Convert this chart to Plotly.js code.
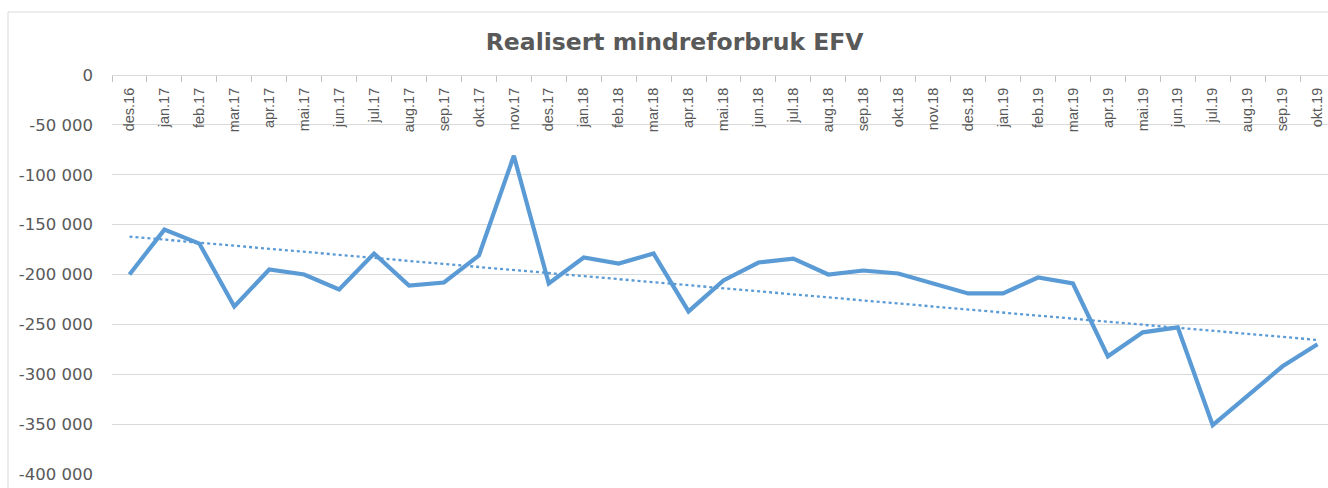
<!DOCTYPE html>
<html>
<head>
<meta charset="utf-8">
<script src="https://cdn.plot.ly/plotly-3.0.1.min.js"></script>
<style>
html,body{margin:0;padding:0;background:#fff;}
#chart{width:1328px;height:488px;}
</style>
</head>
<body>
<div id="chart"></div>
<script>
const months = ["des.16","jan.17","feb.17","mar.17","apr.17","mai.17","jun.17","jul.17","aug.17","sep.17","okt.17","nov.17","des.17","jan.18","feb.18","mar.18","apr.18","mai.18","jun.18","jul.18","aug.18","sep.18","okt.18","nov.18","des.18","jan.19","feb.19","mar.19","apr.19","mai.19","jun.19","jul.19","aug.19","sep.19","okt.19"];
const values = [-200000,-155000,-169000,-232000,-195000,-200000,-215000,-179000,-211000,-208000,-181000,-81000,-209000,-183000,-189000,-179000,-237000,-206000,-188000,-184000,-200000,-196000,-199000,-209000,-219000,-219000,-203000,-209000,-282000,-258000,-253000,-351000,-322000,-292000,-270000];
const yTickVals = [0,-50000,-100000,-150000,-200000,-250000,-300000,-350000,-400000];
const yTickText = ["0","-50 000","-100 000","-150 000","-200 000","-250 000","-300 000","-350 000","-400 000"];
const titleText = "Realisert mindreforbruk EFV";

// linear trendline (least squares) from the series
const n = values.length;
let sx=0, sy=0, sxx=0, sxy=0;
for (let i=0;i<n;i++){ sx+=i; sy+=values[i]; sxx+=i*i; sxy+=i*values[i]; }
const slope = (n*sxy - sx*sy)/(n*sxx - sx*sx);
const intercept = (sy - slope*sx)/n;
const trend = values.map((v,i)=>intercept + slope*i);

const blue = "#5B9BD5";
const traces = [
  {x: months, y: trend, type:"scatter", mode:"lines", line:{color:blue, width:2.3, dash:"dot"}, hoverinfo:"skip", cliponaxis:false},
  {x: months, y: values, type:"scatter", mode:"lines", line:{color:blue, width:4.2}, cliponaxis:false}
];

const layout = {
  width:1328, height:488,
  margin:{l:112, r:0, t:75, b:14, pad:0},
  paper_bgcolor:"#fff", plot_bgcolor:"#fff",
  showlegend:false,
  font:{family:"Liberation Sans, Arial, sans-serif", color:"#595959"},
  title:{text:titleText, font:{family:"DejaVu Sans, sans-serif", size:23.5, color:"#595959", weight:"bold"}, xref:"container", x:0.508, xanchor:"center", yref:"container", y:1-42/488, yanchor:"middle"},
  xaxis:{
    type:"category", side:"bottom", anchor:"free", position:1, range:[-0.5, 34.3],
    showline:true, linecolor:"#d9d9d9", linewidth:1,
    showgrid:false, zeroline:false,
    ticks:"outside", tickson:"boundaries", ticklen:6, tickcolor:"#bfbfbf",
    tickangle:-90, ticklabelstandoff:6,
    tickfont:{family:"Liberation Sans, sans-serif", size:14.5, color:"#595959"}
  },
  yaxis:{
    range:[-400000, 0], tickmode:"array", tickvals:yTickVals, ticktext:yTickText,
    showline:false, zeroline:false, ticks:"",
    showgrid:true, gridcolor:"#d9d9d9", gridwidth:1,
    ticklabelstandoff:18,
    tickfont:{family:"DejaVu Sans, sans-serif", size:16.5, color:"#595959"}
  },
  shapes:[
    {type:"line", xref:"paper", yref:"paper", x0:(8-112)/1216, x1:1, y0:(474-12)/399, y1:(474-12)/399, line:{color:"#d9d9d9", width:1}},
    {type:"line", xref:"paper", yref:"paper", x0:(8-112)/1216, x1:(8-112)/1216, y0:(474-12)/399, y1:-0.05, line:{color:"#d9d9d9", width:1}}
  ]
};
Plotly.newPlot("chart", traces, layout, {displayModeBar:false, staticPlot:true});
</script>
</body>
</html>
